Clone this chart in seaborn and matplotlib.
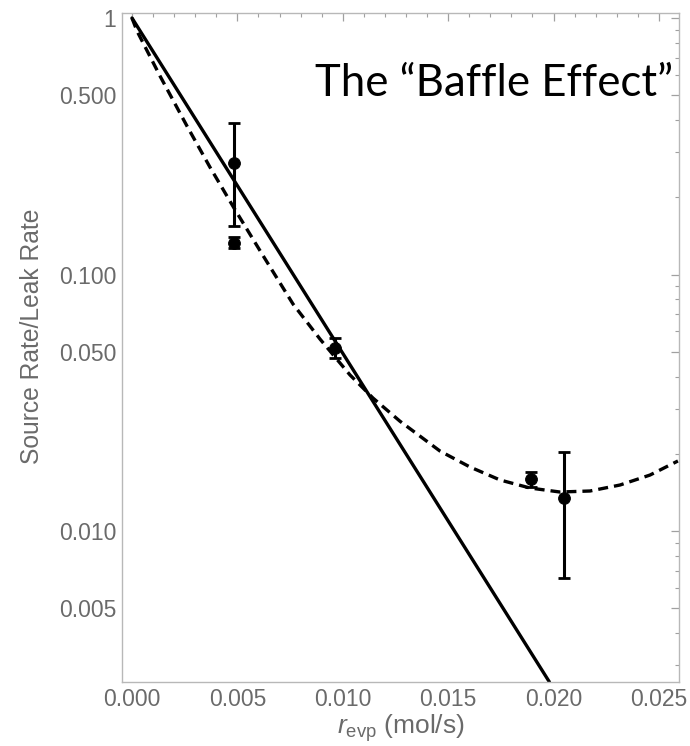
import matplotlib
matplotlib.use("Agg")
import matplotlib.pyplot as plt
import seaborn as sns
from matplotlib.ticker import FixedLocator, FixedFormatter, NullFormatter

# ---- data ----
pt_x = [0.00484, 0.00484, 0.00963, 0.01891, 0.02051]
pt_y = [0.272, 0.1327, 0.0517, 0.01595, 0.01349]
pt_hi = [0.390, 0.140, 0.0565, 0.01703, 0.0204]
pt_lo = [0.1545, 0.1268, 0.0473, 0.01481, 0.00658]

solid_x = [0.0, 0.0198]
solid_y = [1.0, 0.00258]

dash_x = [0.0, 0.000237, 0.00133, 0.00261, 0.00370, 0.00484, 0.00617, 0.00764,
          0.00892, 0.01034, 0.01143, 0.01271, 0.01461, 0.01603, 0.01746, 0.01888,
          0.02030, 0.02173, 0.02315, 0.02457, 0.02590]
dash_y = [1.0, 0.890, 0.594, 0.379, 0.262, 0.1816, 0.1202, 0.0767,
          0.0560, 0.0406, 0.0330, 0.0268, 0.0205, 0.01777, 0.01581, 0.01471,
          0.01419, 0.01432, 0.01511, 0.01652, 0.01875]

xmajor = [0.0, 0.005, 0.010, 0.015, 0.020, 0.025]
xmajor_labels = ["0.000", "0.005", "0.010", "0.015", "0.020", "0.025"]
xminor = [i * 0.001 for i in range(0, 27)]

ymajor = [0.005, 0.01, 0.05, 0.1, 0.5, 1.0]
ymajor_labels = ["0.005", "0.010", "0.050", "0.100", "0.500", "1"]
yminor = [0.003, 0.004, 0.006, 0.007, 0.008, 0.009, 0.02, 0.03, 0.04,
          0.06, 0.07, 0.08, 0.09, 0.2, 0.3, 0.4, 0.6, 0.7, 0.8, 0.9]

title_text = "The \u201cBaffle Effect\u201d"
ylabel_text = "Source Rate/Leak Rate"
xlabel_text = r"$r_{\mathrm{evp}}$ (mol/s)"

# ---- style ----
sns.set_theme(style="white")
plt.rcParams["font.family"] = ["Liberation Sans", "DejaVu Sans"]
plt.rcParams["mathtext.fontset"] = "custom"
plt.rcParams["mathtext.rm"] = "Liberation Sans"
plt.rcParams["mathtext.it"] = "Liberation Sans:italic"

frame_col = "#b8b8b8"
tick_col = "#a0a0a0"
lab_col = "#6a6a6a"

fig = plt.figure(figsize=(6.9, 7.46), dpi=100)
ax = fig.add_axes([122 / 690, 1 - 682 / 746, (679 - 122) / 690, (682 - 13) / 746])

sns.lineplot(x=solid_x, y=solid_y, ax=ax, color="black", linewidth=2.4)
sns.lineplot(x=dash_x, y=dash_y, ax=ax, color="black", linewidth=2.4,
             linestyle=(0, (3.0, 1.8)))

yerr = [[y - lo for y, lo in zip(pt_y, pt_lo)], [hi - y for y, hi in zip(pt_y, pt_hi)]]
ax.errorbar(pt_x, pt_y, yerr=yerr, fmt="none", ecolor="black", elinewidth=2.2,
            capsize=4.3, capthick=2.0, zorder=4)
sns.scatterplot(x=pt_x, y=pt_y, ax=ax, color="black", edgecolor="black", s=72,
                zorder=5, legend=False)

ax.set_yscale("log")
ax.set_xlim(-0.000474, 0.02595)
ax.set_ylim(0.002578, 1.046)

ax.xaxis.set_major_locator(FixedLocator(xmajor))
ax.xaxis.set_major_formatter(FixedFormatter(xmajor_labels))
ax.xaxis.set_minor_locator(FixedLocator(xminor))
ax.xaxis.set_minor_formatter(NullFormatter())
ax.yaxis.set_major_locator(FixedLocator(ymajor))
ax.yaxis.set_major_formatter(FixedFormatter(ymajor_labels))
ax.yaxis.set_minor_locator(FixedLocator(yminor))
ax.yaxis.set_minor_formatter(NullFormatter())

ax.tick_params(which="both", direction="in", top=True, right=True, color=tick_col,
               labelcolor=lab_col, labelsize=16.5, pad=4)
ax.tick_params(which="major", length=5.5, width=0.9)
ax.tick_params(which="minor", length=3.2, width=0.8)

for sp in ax.spines.values():
    sp.set_color(frame_col)
    sp.set_linewidth(1.0)

ax.set_xlabel(xlabel_text, fontsize=19, color=lab_col, labelpad=1)
ax.set_ylabel(ylabel_text, fontsize=17.7, color=lab_col)
ax.yaxis.set_label_coords(-0.1616, 0.516)
ax.yaxis.label.set_va("center")

fig.text(315 / 690, 1 - 96 / 746, title_text, fontsize=31.5, color="black",
         family=["Lato", "DejaVu Sans"], ha="left", va="baseline")

fig.savefig("out.png", dpi=100, facecolor="white")
